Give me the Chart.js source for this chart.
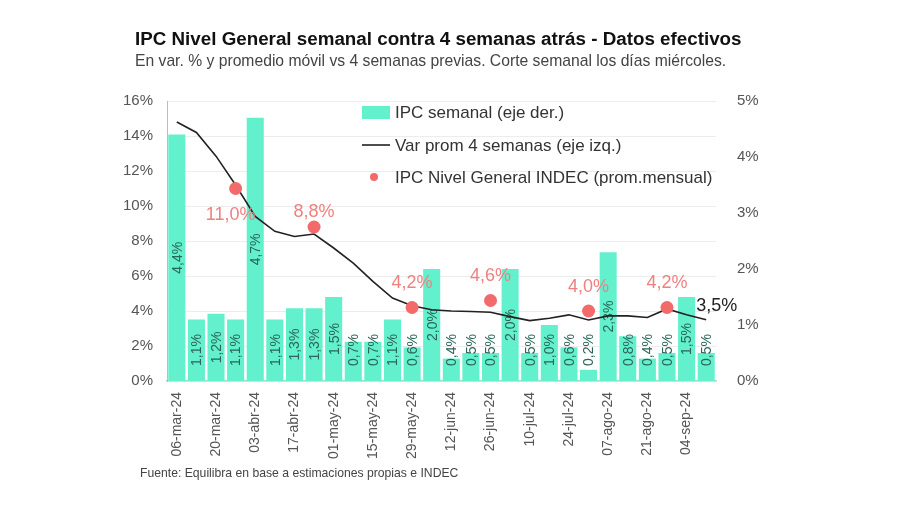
<!DOCTYPE html>
<html lang="es">
<head>
  <meta charset="UTF-8" />
  <title>IPC semanal</title>
  <script src="https://cdn.jsdelivr.net/npm/chart.js"></script>
  <style>
    body { margin: 0; background: #fff; font-family: "Liberation Sans", Arial, sans-serif; }
    .wrap { position: relative; width: 900px; height: 505px; }
    canvas { position: absolute; left: 0; top: 0; }
    .titulo { position: absolute; left: 135px; top: 28px; font-size: 18.8px; font-weight: bold; color: #111; white-space: nowrap; }
    .subtitulo { position: absolute; left: 135px; top: 52px; font-size: 15.7px; color: #444; white-space: nowrap; }
    .fuente { position: absolute; left: 140px; top: 466px; font-size: 12.2px; color: #444; white-space: nowrap; }
  </style>
</head>
<body>
  <div class="wrap">
    <canvas id="grafico" width="900" height="505"></canvas>
    <div class="titulo">IPC Nivel General semanal contra 4 semanas atrás - Datos efectivos</div>
    <div class="subtitulo">En var. % y promedio móvil vs 4 semanas previas. Corte semanal los días miércoles.</div>
    <div class="fuente">Fuente: Equilibra en base a estimaciones propias e INDEC</div>
  </div>

<script>
  // semanas (corte miercoles), solo se rotula una de cada dos
  const semanas = ['06-mar-24', '13-mar-24', '20-mar-24', '27-mar-24', '03-abr-24', '10-abr-24', '17-abr-24',
    '24-abr-24', '01-may-24', '08-may-24', '15-may-24', '22-may-24', '29-may-24', '05-jun-24', '12-jun-24',
    '19-jun-24', '26-jun-24', '03-jul-24', '10-jul-24', '17-jul-24', '24-jul-24', '31-jul-24', '07-ago-24',
    '14-ago-24', '21-ago-24', '28-ago-24', '04-sep-24', '11-sep-24']

  // IPC semanal (eje der.)
  const ipcSemanal = [4.4, 1.1, 1.2, 1.1, 4.7, 1.1, 1.3, 1.3, 1.5, 0.7, 0.7, 1.1, 0.6, 2.0,
    0.4, 0.5, 0.5, 2.0, 0.5, 1.0, 0.6, 0.2, 2.3, 0.8, 0.4, 0.5, 1.5, 0.5]

  // var prom 4 semanas (eje izq.)
  const varProm4 = [14.8, 14.2, 12.85, 11.2, 9.4, 8.55, 8.26, 8.4, 7.6, 6.74, 5.69, 4.74, 4.3, 4.07,
    4.0, 3.97, 3.93, 3.68, 3.45, 3.59, 3.78, 3.49, 3.72, 3.72, 3.63, 4.12, 3.78, 3.5]

  // IPC INDEC promedio mensual
  const ipcIndec = [null, null, null, 11.0, null, null, null, 8.8, null, null, null, null, 4.2, null,
    null, null, 4.6, null, null, null, null, 4.0, null, null, null, 4.2, null, null]

  const ticksIzq = [0, 2, 4, 6, 8, 10, 12, 14, 16]
  const ticksDer = [0, 1, 2, 3, 4, 5]

  const VERDE = '#63f0cd'
  const ROJO = '#f26a6a'
  const fmt = v => v.toFixed(1).replace('.', ',') + '%'

  // rotulos dentro de las barras
  const rotulosBarras = {
    id: 'rotulosBarras',
    afterDatasetDraw(chart, args) {
      if (args.index !== 0) return
      const ctx = chart.ctx
      ctx.save()
      ctx.font = '14px "Liberation Sans", Arial, sans-serif'
      ctx.fillStyle = '#2a6657'
      ctx.textAlign = 'center'
      ctx.textBaseline = 'middle'
      args.meta.data.forEach((bar, i) => {
        let y = (bar.y + bar.base) / 2
        y = Math.min(y, bar.base - 31)
        ctx.save()
        ctx.translate(bar.x + 1, y)
        ctx.rotate(-Math.PI / 2)
        ctx.fillText(fmt(ipcSemanal[i]), 0, 0)
        ctx.restore()
      })
      ctx.restore()
    }
  }

  // rotulos de los puntos INDEC, ultimo valor de la linea y leyenda
  const extras = {
    id: 'extras',
    afterDatasetsDraw(chart) {
      const ctx = chart.ctx
      ctx.save()
      ctx.font = '18px "Liberation Sans", Arial, sans-serif'
      ctx.fillStyle = '#f08080'
      ctx.textAlign = 'center'
      ctx.textBaseline = 'middle'
      const puntos = chart.getDatasetMeta(2).data
      puntos.forEach((p, i) => {
        if (ipcIndec[i] == null) return
        let dx = 0, dy = -24
        if (i === 3) { dx = -5; dy = 27 }
        if (i === 7) { dy = -15 }
        ctx.fillText(fmt(ipcIndec[i]), p.x + dx, p.y + dy)
      })

      const linea = chart.getDatasetMeta(1).data
      const ult = linea[linea.length - 1]
      ctx.fillStyle = '#222'
      ctx.font = '18px "Liberation Sans", Arial, sans-serif'
      ctx.textAlign = 'left'
      ctx.fillText(fmt(varProm4[varProm4.length - 1]), ult.x - 10, ult.y - 14)

      // leyenda
      const ds = chart.data.datasets
      const lx = 362, ly = [112, 145, 177]
      ctx.font = '17px "Liberation Sans", Arial, sans-serif'
      ctx.fillStyle = VERDE
      ctx.fillRect(lx, ly[0] - 6, 28, 13)
      ctx.strokeStyle = '#222'
      ctx.lineWidth = 1.6
      ctx.beginPath()
      ctx.moveTo(lx, ly[1])
      ctx.lineTo(lx + 28, ly[1])
      ctx.stroke()
      ctx.fillStyle = ROJO
      ctx.beginPath()
      ctx.arc(lx + 12, ly[2], 4, 0, Math.PI * 2)
      ctx.fill()
      ctx.fillStyle = '#333'
      ds.forEach((d, i) => ctx.fillText(d.label, lx + 33, ly[i] + 1))
      ctx.restore()
    }
  }

  new Chart(document.getElementById('grafico'), {
    data: {
      labels: semanas,
      datasets: [{
        type: 'bar',
        label: 'IPC semanal (eje der.)',
        data: ipcSemanal,
        backgroundColor: VERDE,
        yAxisID: 'yDer',
        barPercentage: 0.87,
        categoryPercentage: 1,
        order: 3
      }, {
        type: 'line',
        label: 'Var prom 4 semanas (eje izq.)',
        data: varProm4,
        borderColor: '#222',
        borderWidth: 1.6,
        pointRadius: 0,
        tension: 0,
        yAxisID: 'yIzq',
        order: 2
      }, {
        type: 'line',
        label: 'IPC Nivel General INDEC (prom.mensual)',
        data: ipcIndec,
        showLine: false,
        pointRadius: 6.5,
        pointBackgroundColor: ROJO,
        pointBorderWidth: 0,
        yAxisID: 'yIzq',
        order: 1
      }]
    },
    options: {
      responsive: false,
      animation: false,
      layout: { padding: { left: 100, right: 124, top: 101, bottom: 0 } },
      plugins: { legend: { display: false }, tooltip: { enabled: false } },
      scales: {
        x: {
          offset: true,
          grid: { display: false, drawTicks: false },
          border: { color: '#a6dccd', width: 1.5 },
          afterFit: s => { s.height = 124 },
          ticks: {
            autoSkip: false,
            minRotation: 90,
            maxRotation: 90,
            padding: 11,
            color: '#555',
            font: { size: 14, family: '"Liberation Sans", Arial, sans-serif' },
            callback: (v, i) => i % 2 === 0 ? semanas[i] : ''
          }
        },
        yIzq: {
          position: 'left',
          min: ticksIzq[0],
          max: ticksIzq[ticksIzq.length - 1],
          afterFit: s => { s.width = 67 },
          afterBuildTicks: s => { s.ticks = ticksIzq.map(v => ({ value: v })) },
          grid: { color: '#ececec', drawTicks: false },
          border: { color: '#bbb' },
          ticks: {
            padding: 14,
            color: '#555',
            font: { size: 15, family: '"Liberation Sans", Arial, sans-serif' },
            callback: v => v + '%'
          }
        },
        yDer: {
          position: 'right',
          min: ticksDer[0],
          max: ticksDer[ticksDer.length - 1],
          afterFit: s => { s.width = 60 },
          afterBuildTicks: s => { s.ticks = ticksDer.map(v => ({ value: v })) },
          grid: { display: false, drawTicks: false },
          border: { display: false },
          ticks: {
            padding: 21,
            color: '#555',
            font: { size: 15, family: '"Liberation Sans", Arial, sans-serif' },
            callback: v => v + '%'
          }
        }
      }
    },
    plugins: [rotulosBarras, extras]
  })
</script>
</body>
</html>
